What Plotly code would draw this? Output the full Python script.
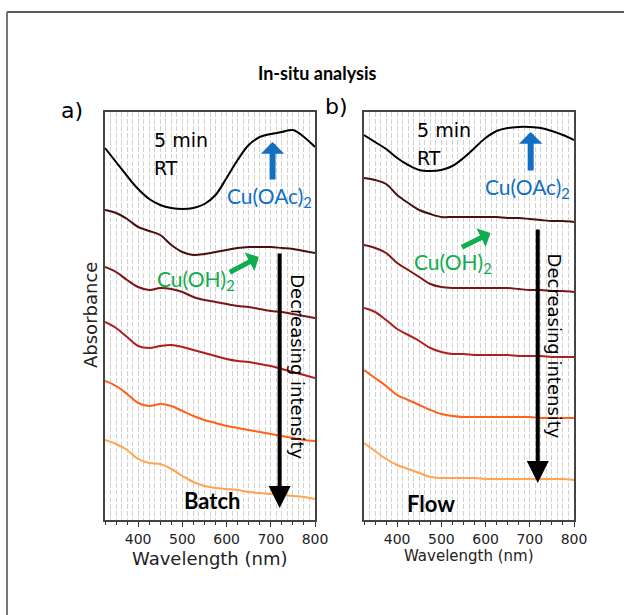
import plotly.graph_objects as go

# Wavelength grid (nm)
wavelength = [325, 350, 375, 400, 425, 450, 475, 500, 525, 550, 575, 600, 625, 650, 675, 700, 725, 750, 775, 800]

# Panel a) Batch - stacked absorbance spectra (offset, a.u.), top to bottom
batch_1 = [3.72, 3.58, 3.44, 3.31, 3.21, 3.15, 3.12, 3.11, 3.12, 3.16, 3.25, 3.42, 3.60, 3.75, 3.83, 3.86, 3.88, 3.90, 3.83, 3.73]
batch_2 = [3.10, 3.07, 3.01, 2.93, 2.89, 2.85, 2.75, 2.68, 2.65, 2.66, 2.68, 2.70, 2.72, 2.73, 2.73, 2.73, 2.72, 2.71, 2.69, 2.67]
batch_3 = [2.53, 2.48, 2.40, 2.33, 2.30, 2.32, 2.31, 2.28, 2.23, 2.20, 2.18, 2.16, 2.14, 2.13, 2.11, 2.09, 2.08, 2.06, 2.04, 2.02]
batch_4 = [1.98, 1.92, 1.83, 1.74, 1.72, 1.74, 1.75, 1.73, 1.70, 1.67, 1.64, 1.61, 1.59, 1.58, 1.56, 1.54, 1.51, 1.48, 1.45, 1.42]
batch_5 = [1.39, 1.34, 1.26, 1.17, 1.14, 1.16, 1.14, 1.09, 1.04, 1.00, 0.97, 0.94, 0.92, 0.90, 0.88, 0.86, 0.84, 0.82, 0.80, 0.79]
batch_6 = [0.80, 0.76, 0.70, 0.61, 0.57, 0.56, 0.51, 0.44, 0.38, 0.34, 0.32, 0.31, 0.30, 0.28, 0.27, 0.26, 0.25, 0.24, 0.23, 0.21]

# Panel b) Flow
flow_1 = [3.85, 3.78, 3.71, 3.62, 3.55, 3.50, 3.49, 3.50, 3.54, 3.62, 3.72, 3.82, 3.89, 3.92, 3.93, 3.93, 3.92, 3.89, 3.85, 3.80]
flow_2 = [3.42, 3.40, 3.36, 3.25, 3.17, 3.10, 3.06, 3.03, 3.03, 3.03, 3.03, 3.03, 3.03, 3.02, 3.02, 3.01, 3.00, 2.99, 2.99, 2.98]
flow_3 = [2.75, 2.72, 2.67, 2.57, 2.50, 2.43, 2.36, 2.33, 2.32, 2.32, 2.32, 2.32, 2.32, 2.32, 2.31, 2.30, 2.30, 2.29, 2.29, 2.28]
flow_4 = [2.12, 2.08, 2.00, 1.91, 1.85, 1.79, 1.72, 1.68, 1.66, 1.66, 1.65, 1.65, 1.65, 1.65, 1.64, 1.64, 1.64, 1.63, 1.63, 1.63]
flow_5 = [1.50, 1.42, 1.34, 1.25, 1.20, 1.15, 1.10, 1.06, 1.04, 1.03, 1.03, 1.03, 1.03, 1.03, 1.03, 1.03, 1.02, 1.02, 1.02, 1.02]
flow_6 = [0.77, 0.69, 0.61, 0.55, 0.51, 0.47, 0.43, 0.42, 0.42, 0.42, 0.42, 0.41, 0.41, 0.41, 0.41, 0.41, 0.41, 0.41, 0.41, 0.40]

colors = ["#000000", "#4a0f0f", "#7b1414", "#b01e1e", "#ff6118", "#ffa552"]
batch = [batch_1, batch_2, batch_3, batch_4, batch_5, batch_6]
flow = [flow_1, flow_2, flow_3, flow_4, flow_5, flow_6]

x_ticks = [400, 500, 600, 700, 800]
x_range = [325, 800]
y_range = [0, 4.08]

fig = go.Figure()
for ys, c in zip(batch, colors):
    fig.add_trace(go.Scatter(x=wavelength, y=ys, mode="lines", line=dict(color=c, width=2, shape="spline"),
                             xaxis="x", yaxis="y", showlegend=False, hoverinfo="skip"))
for ys, c in zip(flow, colors):
    fig.add_trace(go.Scatter(x=wavelength, y=ys, mode="lines", line=dict(color=c, width=2, shape="spline"),
                             xaxis="x2", yaxis="y2", showlegend=False, hoverinfo="skip"))
# empty traces for grid-only overlay axes
fig.add_trace(go.Scatter(x=[], y=[], xaxis="x3", yaxis="y", showlegend=False))
fig.add_trace(go.Scatter(x=[], y=[], xaxis="x4", yaxis="y2", showlegend=False))

AX = "DejaVu Sans"
TX = "Lato"
grid_col = "#d2d2d2"
gdash = "5px,2px"

def xax(domain, anchor):
    return dict(domain=domain, anchor=anchor, range=x_range, tickvals=x_ticks, ticks="outside", ticklen=5,
                tickcolor="#333", tickwidth=1, showline=True, mirror=True, linecolor="#444", linewidth=1.5,
                showgrid=True, gridcolor=grid_col, griddash=gdash, gridwidth=1,
                tickfont=dict(family=AX, size=14, color="#222"), ticklabelstandoff=0,
                minor=dict(dtick=25, tick0=325, ticks="outside", ticklen=3, tickcolor="#333",
                           showgrid=True, gridcolor=grid_col, griddash=gdash, gridwidth=1),
                zeroline=False, fixedrange=True)

def xgrid(overlay):
    return dict(overlaying=overlay, matches=overlay, range=x_range, tick0=337.5, dtick=25, showgrid=True,
                gridcolor=grid_col, griddash=gdash, gridwidth=1, showticklabels=False, ticks="",
                showline=False, zeroline=False)

def yax(domain, anchor):
    return dict(domain=domain, anchor=anchor, range=y_range, showticklabels=False, ticks="", showgrid=False,
                showline=True, mirror=True, linecolor="#444", linewidth=1.5, zeroline=False, fixedrange=True)

da = [0.0, 210 / 469]
db = [259 / 469, 1.0]

fig.update_layout(
    width=624, height=615,
    margin=dict(l=105, r=50, t=112, b=95),
    paper_bgcolor="white", plot_bgcolor="white",
    xaxis=xax(da, "y"), yaxis=yax([0, 1], "x"),
    xaxis2=xax(db, "y2"), yaxis2=yax([0, 1], "x2"),
    xaxis3=xgrid("x"), xaxis4=xgrid("x2"),
)

ann = []
def txt(x, y, s, xref, yref, size, color="#000", family=TX, xanchor="center", yanchor="middle", angle=0):
    ann.append(dict(x=x, y=y, text=s, xref=xref, yref=yref, showarrow=False, xanchor=xanchor, yanchor=yanchor,
                    textangle=angle, font=dict(family=family, size=size, color=color)))

def arrow(x, y, ax, ay, xref, yref, color, width, size, head):
    ann.append(dict(x=x, y=y, ax=ax, ay=ay, xref=xref, yref=yref, axref=xref, ayref=yref, text="",
                    showarrow=True, arrowcolor=color, arrowwidth=width, arrowsize=size, arrowhead=head,
                    standoff=0, startstandoff=0))

blue = "#1170c2"
green = "#10ad4f"

# Titles and panel labels
txt((317 - 105) / 469, (520 - 73) / 408, "<b>In-situ analysis</b>", "paper", "paper", 18)
txt((72 - 105) / 469, (520 - 110) / 408, "a)", "paper", "paper", 22, family=AX)
txt((336 - 105) / 469, (520 - 106) / 408, "b)", "paper", "paper", 22, family=AX)
txt((90 - 105) / 469, (520 - 315) / 408, "Absorbance", "paper", "paper", 18, color="#222", family=AX, angle=-90)
txt(0.5, (520 - 558) / 408, "Wavelength (nm)", "x domain", "paper", 18, color="#222", family=AX)
txt(0.5, (520 - 556) / 408, "Wavelength (nm)", "x2 domain", "paper", 15, color="#222", family=AX)

# Panel a annotations
txt(432, 3.80, "5 min", "x", "y", 19, family=AX, xanchor="left")
txt(432, 3.52, "RT", "x", "y", 19, family=AX, xanchor="left")
arrow(704, 3.78, 704, 3.39, "x", "y", blue, 6, 0.65, 1)
txt(698, 3.23, "Cu(OAc)<sub>2</sub>", "x", "y", 21, color=blue)
arrow(673, 2.63, 604, 2.47, "x", "y", green, 5, 0.7, 1)
txt(530, 2.40, "Cu(OH)<sub>2</sub>", "x", "y", 21, color=green)
arrow(720, 0.12, 720, 2.68, "x", "y", "#000", 4, 1.1, 2)
txt(761, 1.53, "Decreasing intensity", "x", "y", 18, family=AX, angle=90)
txt(566, 0.20, "<b>Batch</b>", "x", "y", 22)

# Panel b annotations
txt(441, 3.90, "5 min", "x2", "y2", 19, family=AX, xanchor="left")
txt(441, 3.62, "RT", "x2", "y2", 19, family=AX, xanchor="left")
arrow(702, 3.88, 702, 3.48, "x2", "y2", blue, 6, 0.65, 1)
txt(695, 3.32, "Cu(OAc)<sub>2</sub>", "x2", "y2", 21, color=blue)
arrow(611, 2.87, 543, 2.72, "x2", "y2", green, 5, 0.7, 1)
txt(527, 2.57, "Cu(OH)<sub>2</sub>", "x2", "y2", 21, color=green)
arrow(718, 0.37, 718, 2.92, "x2", "y2", "#000", 4, 1.1, 2)
txt(758, 1.74, "Decreasing intensity", "x2", "y2", 18, family=AX, angle=90)
txt(477, 0.17, "<b>Flow</b>", "x2", "y2", 22)

fig.update_layout(annotations=ann)

# Outer frame of the original figure image
top_y = (520 - 12) / 408
left_x = (7 - 105) / 469
fig.add_shape(type="line", xref="paper", yref="paper", x0=left_x, x1=1.2, y0=top_y, y1=top_y,
              line=dict(color="#222", width=1.5))
fig.add_shape(type="line", xref="paper", yref="paper", x0=left_x, x1=left_x, y0=top_y, y1=-0.3,
              line=dict(color="#777", width=2))

fig.write_html("out.html")
